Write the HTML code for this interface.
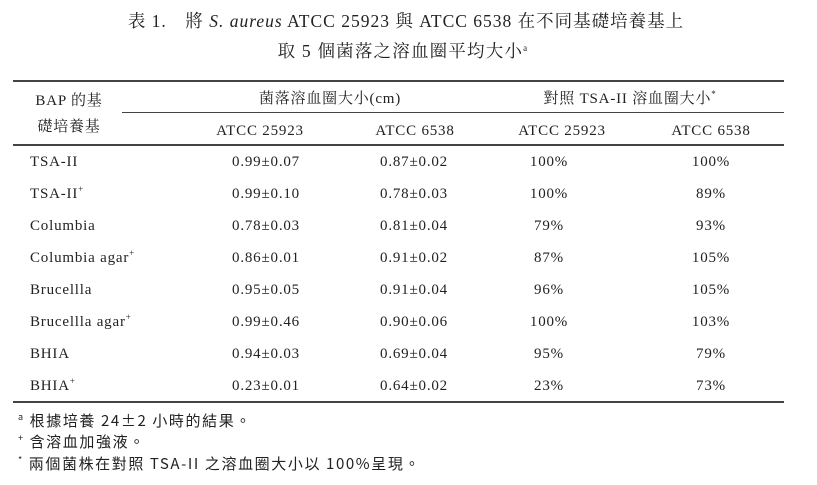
<!DOCTYPE html>
<html><head><meta charset="utf-8"><style>
body{margin:0;width:817px;height:485px;background:#fff;position:relative;overflow:hidden;font-family:"Liberation Serif","Noto Serif CJK SC","Noto Sans CJK TC",serif;color:#222}
.t{position:absolute;white-space:nowrap;font-size:15px;letter-spacing:0.8px;line-height:20px}
.c{transform:translateX(-50%)}
.r{position:absolute;background:#444}
sup{font-size:9px;vertical-align:0;position:relative;top:-6px;line-height:0}
.cjk{font-family:"Noto Sans CJK TC","WenQuanYi Zen Hei",sans-serif;letter-spacing:1.6px}
</style></head><body>
<div class="t c" style="left:406px;top:11px;font-size:17.5px;letter-spacing:1px">表 1.　將 <i>S. aureus</i> ATCC 25923 與 ATCC 6538 在不同基礎培養基上</div>
<div class="t c" style="left:403px;top:41px;font-size:17.5px;letter-spacing:1.2px">取 5 個菌落之溶血圈平均大小<sup>a</sup></div>
<div class="r" style="left:13px;top:80px;width:771px;height:2px"></div>
<div class="r" style="left:122px;top:112px;width:662px;height:1px"></div>
<div class="r" style="left:13px;top:144px;width:771px;height:2px"></div>
<div class="r" style="left:13px;top:401px;width:771px;height:2px"></div>
<div class="t c" style="left:69px;top:91px">BAP 的基</div>
<div class="t c" style="left:69px;top:117px">礎培養基</div>
<div class="t c" style="left:330px;top:89px">菌落溶血圈大小(cm)</div>
<div class="t c" style="left:630px;top:89px">對照 TSA-II 溶血圈大小<sup>*</sup></div>
<div class="t c" style="left:260px;top:121px">ATCC 25923</div>
<div class="t c" style="left:415px;top:121px">ATCC 6538</div>
<div class="t c" style="left:562px;top:121px">ATCC 25923</div>
<div class="t c" style="left:711px;top:121px">ATCC 6538</div>
<div id="rows"></div>
<script>
var d=[["TSA-II","0.99±0.07","0.87±0.02","100%","100%"],["TSA-II<sup>+</sup>","0.99±0.10","0.78±0.03","100%","89%"],["Columbia","0.78±0.03","0.81±0.04","79%","93%"],["Columbia agar<sup>+</sup>","0.86±0.01","0.91±0.02","87%","105%"],["Brucellla","0.95±0.05","0.91±0.04","96%","105%"],["Brucellla agar<sup>+</sup>","0.99±0.46","0.90±0.06","100%","103%"],["BHIA","0.94±0.03","0.69±0.04","95%","79%"],["BHIA<sup>+</sup>","0.23±0.01","0.64±0.02","23%","73%"]];
var x=[266,414,549,711],h="";
d.forEach(function(r,i){var y=152+i*32;h+='<div class="t" style="left:30px;top:'+y+'px">'+r[0]+'</div>';for(var j=1;j<5;j++)h+='<div class="t c" style="left:'+x[j-1]+'px;top:'+y+'px">'+r[j]+'</div>';});
document.getElementById("rows").innerHTML=h;
</script>
<div class="t cjk" style="left:18px;top:411px;font-size:15px"><sup>a</sup> 根據培養 24±2 小時的結果。</div>
<div class="t cjk" style="left:18px;top:432px;font-size:15px"><sup>+</sup> 含溶血加強液。</div>
<div class="t cjk" style="left:18px;top:454px;font-size:15px"><sup>*</sup> 兩個菌株在對照 TSA-II 之溶血圈大小以 100%呈現。</div>
</body></html>
